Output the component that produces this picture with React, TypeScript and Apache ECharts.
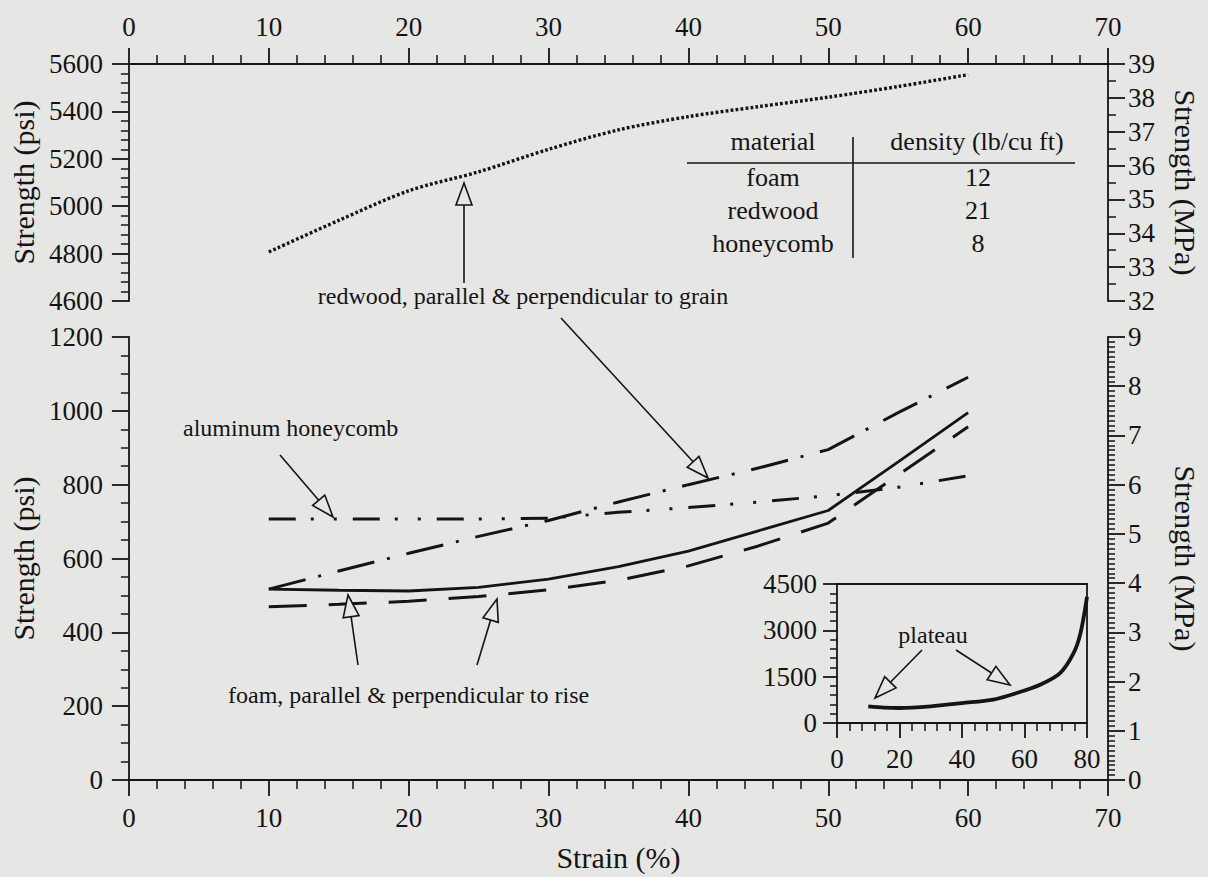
import React, { useEffect, useRef } from "react";
import * as echarts from "echarts";

// ---------- data ----------
const redwoodParallelStrain = [10, 15, 20, 25, 30, 35, 40, 45, 50, 55, 60];
const redwoodParallelPsi = [4807, 4940, 5065, 5145, 5240, 5322, 5378, 5420, 5460, 5505, 5555];

const bottomStrain = [10, 15, 20, 25, 30, 35, 40, 45, 50, 55, 60];
const redwoodPerpPsi = [517, 566, 614, 660, 703, 753, 800, 845, 895, 995, 1091];
const honeycombPsi = [707, 707, 707, 707, 709, 725, 738, 753, 770, 793, 824];
const foamParallelPsi = [517, 514, 512, 522, 544, 578, 620, 675, 730, 862, 995];
const foamPerpPsi = [469, 476, 484, 497, 515, 541, 580, 634, 696, 826, 957];

const insetStrain = [10, 15, 20, 30, 40, 50, 57.5, 65, 71.4, 75.7, 77.9, 80];
const insetPsi = [540, 500, 485, 540, 646, 760, 970, 1240, 1615, 2260, 2900, 4090];

const tableHeader = ["material", "density (lb/cu ft)"];
const tableMaterials = ["foam", "redwood", "honeycomb"];
const tableDensities = ["12", "21", "8"];

// ---------- style ----------
const FONT = "'Liberation Serif', 'Times New Roman', serif";
const INK = "#141414";
const BG = "#e6e6e4";

const zip = (xs: number[], ys: number[]) => xs.map((x, i) => [x, ys[i]]);

const lbl = (margin: number, extra: any = {}) => ({
  show: true,
  margin,
  color: INK,
  fontFamily: FONT,
  fontSize: 27,
  formatter: (v: number) => String(v),
  ...extra,
});

const line = (w = 1.8) => ({ show: true, onZero: false, lineStyle: { color: INK, width: w } });
const tick = (len: number) => ({ show: true, length: len, lineStyle: { color: INK, width: 1.8 } });
const minor = (n: number, len: number) => ({
  show: true,
  splitNumber: n,
  length: len,
  lineStyle: { color: INK, width: 1.5 },
});
const nameStyle = { fontFamily: FONT, fontSize: 30, color: INK };

function arrow(x1: number, y1: number, x2: number, y2: number) {
  const dx = x2 - x1;
  const dy = y2 - y1;
  const L = Math.hypot(dx, dy);
  const ux = dx / L;
  const uy = dy / L;
  const len = 22;
  const hw = 8;
  const bx = x2 - ux * len;
  const by = y2 - uy * len;
  const px = -uy * hw;
  const py = ux * hw;
  return [
    { type: "line", z: 50, shape: { x1, y1, x2: bx, y2: by }, style: { stroke: INK, lineWidth: 1.6 } },
    {
      type: "polygon",
      z: 50,
      shape: { points: [[x2, y2], [bx + px, by + py], [bx - px, by - py]] },
      style: { fill: BG, stroke: INK, lineWidth: 1.6 },
    },
  ];
}

const txt = (text: string, x: number, y: number, align = "center", size = 24) => ({
  type: "text",
  z: 60,
  style: {
    text,
    x,
    y,
    font: `${size}px ${FONT}`,
    fill: INK,
    textAlign: align,
    textVerticalAlign: "middle",
  },
});

const hline = (x1: number, y1: number, x2: number, y2: number) => ({
  type: "line",
  z: 50,
  shape: { x1, y1, x2, y2 },
  style: { stroke: INK, lineWidth: 1.6 },
});

const tableRowsY = [177, 210, 243];

const graphic: any[] = [
  // table
  txt(tableHeader[0], 773, 141, "center", 26),
  txt(tableHeader[1], 977, 141, "center", 26),
  hline(687, 163, 1075, 163),
  hline(853, 137, 853, 258),
  ...tableMaterials.map((m, i) => txt(m, 773, tableRowsY[i], "center", 26)),
  ...tableDensities.map((d, i) => txt(d, 978, tableRowsY[i], "center", 26)),
  // annotations
  txt("redwood, parallel & perpendicular to grain", 523, 296, "center", 24),
  ...arrow(464, 283, 464, 183),
  ...arrow(561, 318, 708, 478),
  txt("aluminum honeycomb", 183, 428, "left", 24),
  ...arrow(280, 455, 333, 517),
  txt("foam, parallel & perpendicular to rise", 228, 695, "left", 24),
  ...arrow(358, 665, 348, 595),
  ...arrow(477, 665, 497, 599),
  txt("plateau", 933, 635, "center", 24),
  ...arrow(922, 650, 875, 698),
  ...arrow(956, 650, 1010, 685),
];

const option: any = {
  animation: false,
  backgroundColor: BG,
  grid: [
    { left: 127, right: 97, top: 64, height: 237 },
    { left: 127, right: 97, top: 337, height: 449 },
    { left: 837, top: 584, width: 250, height: 139 },
  ],
  xAxis: [
    {
      gridIndex: 0,
      type: "value",
      position: "top",
      min: 0,
      max: 70,
      interval: 10,
      axisLine: line(),
      axisTick: tick(16),
      minorTick: minor(5, 9),
      axisLabel: lbl(24),
      splitLine: { show: false },
    },
    {
      gridIndex: 1,
      type: "value",
      position: "bottom",
      min: 0,
      max: 70,
      interval: 10,
      axisLine: line(),
      axisTick: tick(16),
      minorTick: minor(5, 9),
      axisLabel: lbl(24),
      splitLine: { show: false },
      name: "Strain (%)",
      nameLocation: "middle",
      nameGap: 62,
      nameTextStyle: nameStyle,
    },
    {
      gridIndex: 2,
      type: "value",
      position: "bottom",
      min: 0,
      max: 80,
      interval: 20,
      axisLine: line(),
      axisTick: tick(15),
      minorTick: minor(5, 8),
      axisLabel: lbl(22),
      splitLine: { show: false },
    },
    {
      gridIndex: 2,
      type: "value",
      position: "top",
      min: 0,
      max: 80,
      axisLine: line(),
      axisTick: { show: false },
      axisLabel: { show: false },
      splitLine: { show: false },
    },
  ],
  yAxis: [
    {
      gridIndex: 0,
      type: "value",
      position: "left",
      min: 4600,
      max: 5600,
      interval: 200,
      axisLine: line(),
      axisTick: tick(17),
      minorTick: minor(5, 8),
      axisLabel: lbl(26),
      splitLine: { show: false },
      name: "Strength (psi)",
      nameLocation: "middle",
      nameGap: 88,
      nameRotate: 90,
      nameTextStyle: nameStyle,
    },
    {
      gridIndex: 0,
      type: "value",
      position: "right",
      min: 32,
      max: 39,
      interval: 1,
      axisLine: line(),
      axisTick: tick(17),
      minorTick: minor(2, 8),
      axisLabel: lbl(20),
      splitLine: { show: false },
      name: "Strength (MPa)",
      nameLocation: "middle",
      nameGap: 62,
      nameRotate: -90,
      nameTextStyle: nameStyle,
    },
    {
      gridIndex: 1,
      type: "value",
      position: "left",
      min: 0,
      max: 1200,
      interval: 200,
      axisLine: line(),
      axisTick: tick(17),
      minorTick: minor(4, 8),
      axisLabel: lbl(26),
      splitLine: { show: false },
      name: "Strength (psi)",
      nameLocation: "middle",
      nameGap: 88,
      nameRotate: 90,
      nameTextStyle: nameStyle,
    },
    {
      gridIndex: 1,
      type: "value",
      position: "right",
      min: 0,
      max: 9,
      interval: 1,
      axisLine: line(),
      axisTick: tick(17),
      minorTick: minor(10, 7),
      axisLabel: lbl(20),
      splitLine: { show: false },
      name: "Strength (MPa)",
      nameLocation: "middle",
      nameGap: 62,
      nameRotate: -90,
      nameTextStyle: nameStyle,
    },
    {
      gridIndex: 2,
      type: "value",
      position: "left",
      min: 0,
      max: 4500,
      interval: 1500,
      axisLine: line(),
      axisTick: tick(14),
      minorTick: minor(5, 7),
      axisLabel: lbl(20),
      splitLine: { show: false },
    },
    {
      gridIndex: 2,
      type: "value",
      position: "right",
      min: 0,
      max: 4500,
      axisLine: line(),
      axisTick: { show: false },
      axisLabel: { show: false },
      splitLine: { show: false },
    },
  ],
  series: [
    {
      name: "redwood parallel",
      type: "line",
      xAxisIndex: 0,
      yAxisIndex: 0,
      data: zip(redwoodParallelStrain, redwoodParallelPsi),
      symbol: "none",
      smooth: 0.3,
      lineStyle: { color: INK, width: 3.4, type: [2.8, 2.2] },
    },
    {
      name: "redwood perpendicular",
      type: "line",
      xAxisIndex: 1,
      yAxisIndex: 2,
      data: zip(bottomStrain, redwoodPerpPsi),
      symbol: "none",
      lineStyle: { color: INK, width: 3, type: [38, 13, 3, 17] },
    },
    {
      name: "aluminum honeycomb",
      type: "line",
      xAxisIndex: 1,
      yAxisIndex: 2,
      data: zip(bottomStrain, honeycombPsi),
      symbol: "none",
      lineStyle: { color: INK, width: 3, type: [27, 15, 3, 20, 3, 16] },
    },
    {
      name: "foam parallel",
      type: "line",
      xAxisIndex: 1,
      yAxisIndex: 2,
      data: zip(bottomStrain, foamParallelPsi),
      symbol: "none",
      lineStyle: { color: INK, width: 2.8, type: "solid" },
    },
    {
      name: "foam perpendicular",
      type: "line",
      xAxisIndex: 1,
      yAxisIndex: 2,
      data: zip(bottomStrain, foamPerpPsi),
      symbol: "none",
      lineStyle: { color: INK, width: 3, type: [38, 22] },
    },
    {
      name: "foam full curve",
      type: "line",
      xAxisIndex: 2,
      yAxisIndex: 4,
      data: zip(insetStrain, insetPsi),
      symbol: "none",
      smooth: 0.3,
      lineStyle: { color: INK, width: 3.8, type: "solid" },
    },
  ],
  graphic,
};

export default function App() {
  const ref = useRef<HTMLDivElement>(null);
  useEffect(() => {
    document.body.style.margin = "0";
    document.body.style.background = BG;
    const chart = echarts.init(ref.current as HTMLDivElement, null, { renderer: "svg" });
    chart.setOption(option);
    return () => chart.dispose();
  }, []);
  return (
    <div
      ref={ref}
      style={{ position: "fixed", left: 0, top: 0, width: 1208, height: 877, background: BG }}
    />
  );
}
